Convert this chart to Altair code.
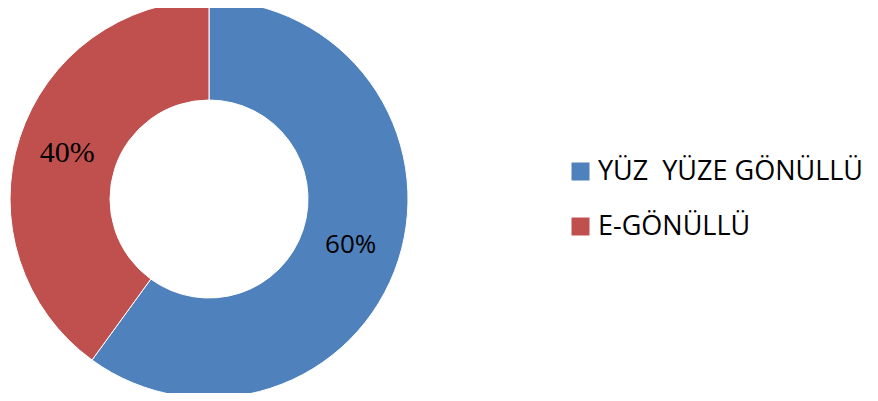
import altair as alt
import pandas as pd
import math

categories = ["YÜZ\u00a0 YÜZE GÖNÜLLÜ", "E-GÖNÜLLÜ"]
values = [60, 40]
labels = ["60%", "40%"]
orders = [1, 2]
colors = ["#4F81BD", "#C0504D"]

df = pd.DataFrame({"cat": categories, "val": values, "lab": labels, "ord": orders})

CX, CY = 201, 191
theta_scale = alt.Scale(domain=[0, 100], range=[0, 2 * math.pi])

arcs = alt.Chart(df).mark_arc(outerRadius=199, innerRadius=99, stroke="white", strokeWidth=1).encode(
    theta=alt.Theta("val:Q", stack=True, scale=theta_scale),
    order=alt.Order("ord:Q"),
    x=alt.value(CX), y=alt.value(CY),
    color=alt.Color(
        "cat:N",
        scale=alt.Scale(domain=categories, range=colors),
        sort=categories,
        legend=alt.Legend(
            title=None, orient="none", legendX=559, legendY=150,
            symbolType="square", symbolSize=324, symbolStrokeWidth=0,
            labelFontSize=27, labelFont="Open Sans", labelColor="#000000",
            rowPadding=27, labelOffset=4, padding=0, labelLimit=400,
        ),
    ),
)

text_base = alt.Chart(df).transform_window(
    cum="sum(val)", sort=[alt.SortField("ord")]
).transform_calculate(
    mid="datum.cum - datum.val / 2"
).encode(
    theta=alt.Theta("mid:Q", stack=None, scale=theta_scale),
    text="lab:N",
    x=alt.value(CX), y=alt.value(CY),
)

t1 = text_base.transform_filter(alt.datum.ord == 1).mark_text(
    radius=149, font="Open Sans", fontSize=26, color="#000000")
t2 = text_base.transform_filter(alt.datum.ord == 2).mark_text(
    radius=149, font="Times New Roman, serif", fontSize=30, color="#000000")

chart = alt.layer(arcs, t1, t2).properties(
    width=862, height=385, padding=0, autosize="none"
).configure_view(stroke=None)

chart.save("out.html", embed_options={"renderer": "svg", "actions": False})
